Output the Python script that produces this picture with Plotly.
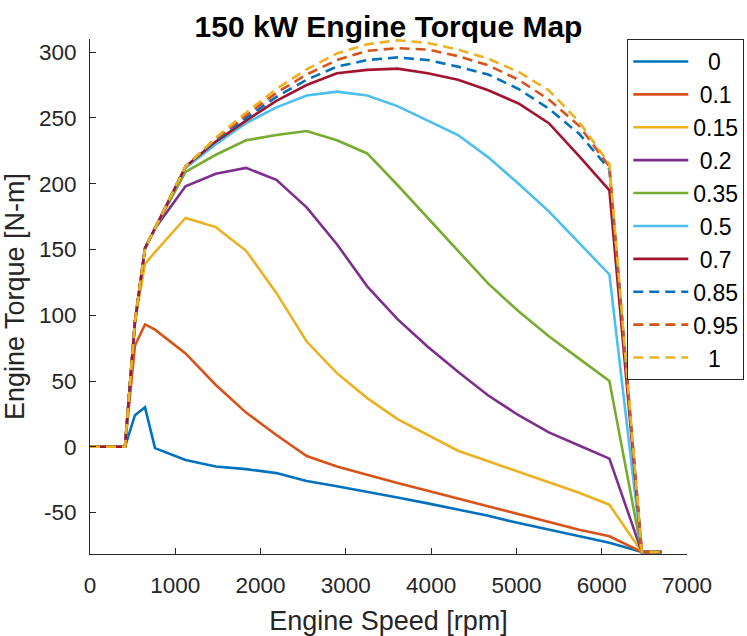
import plotly.graph_objects as go

speed_rpm = [0, 410, 527, 645, 762, 1120, 1475, 1830, 2185, 2540, 2895, 3250, 3605,
             3960, 4315, 4670, 5025, 5380, 5735, 6090, 6470, 6700]

labels = ["0", "0.1", "0.15", "0.2", "0.35", "0.5", "0.7", "0.85", "0.95", "1"]
# leading spaces only to centre the entries like the reference legend
label_pad = ["\u00a0\u00a0\u200a", "\u00a0", "", "\u00a0", "", "\u00a0", "\u00a0", "", "", "\u00a0\u00a0\u200a"]

torque_0 = [0, 0, 24, 30, -1, -10, -15, -17, -20, -26, -30, -34, -38.5, -43, -47.5, -52.5, -58, -63, -68, -73, -80, -80]
torque_01 = [0, 0, 77, 93, 89, 71, 47, 26, 9, -7, -15, -21.5, -27.5, -33.5, -39.5, -45.5, -51, -57, -63, -68, -80, -80]
torque_015 = [0, 0, 95, 139, 148, 174, 167, 149, 117, 80, 56, 37, 21, 9, -3, -11, -19, -27, -35, -44, -80, -80]
torque_02 = [0, 0, 95, 151, 166, 198, 207.5, 212, 203, 182, 154, 122, 97, 76, 57, 39, 24, 11, 1, -9, -80, -80]
torque_035 = [0, 0, 95, 151, 166, 209, 222, 233, 237, 240, 233, 223, 199, 174, 149, 124, 103, 84, 67, 50, -80, -80]
torque_05 = [0, 0, 95, 151, 166, 212, 230, 246, 258, 267, 270, 267, 259, 248, 237, 220, 200, 179, 155, 131, -80, -80]
torque_07 = [0, 0, 95, 151, 166, 213, 232, 248, 263, 275, 284, 286.5, 287.5, 284, 279, 271, 261, 246, 221, 195, -80, -80]
torque_085 = [0, 0, 95, 151, 166, 213, 233, 250, 266, 279, 289, 294, 296, 294, 289, 283, 272, 257, 238, 211, -80, -80]
torque_095 = [0, 0, 95, 151, 166, 213, 234, 252, 269, 283, 294, 301, 303, 302, 297, 290, 279, 264, 244, 213, -80, -80]
torque_1 = [0, 0, 95, 151, 166, 213, 235, 254, 272, 287, 299, 306, 309, 307, 302, 295, 285, 271, 247, 215, -80, -80]

series = [torque_0, torque_01, torque_015, torque_02, torque_035, torque_05, torque_07,
          torque_085, torque_095, torque_1]

x_ticks = [0, 1000, 2000, 3000, 4000, 5000, 6000, 7000]
y_ticks = [-50, 0, 50, 100, 150, 200, 250, 300]
y_tick_text = ["-50", "0", "50", "100", "150", "200", "250", "300"]

colors = ["#0072BD", "#D95319", "#EDB120", "#7E2F8E", "#77AC30", "#4DBEEE", "#A2142F",
          "#0072BD", "#D95319", "#EDB120"]
dashes = ["solid"] * 7 + ["10px,6px"] * 3

fig = go.Figure()
for lab, pad, ys, c, d in zip(labels, label_pad, series, colors, dashes):
    fig.add_trace(go.Scatter(x=speed_rpm, y=ys, mode="lines", name=pad + lab,
                             line=dict(color=c, width=2.6, dash=d)))

axis_col = "#262626"
fam = "Liberation Sans, Arial, sans-serif"
fig.update_layout(
    width=747, height=636,
    margin=dict(l=90, r=60, t=39, b=82, autoexpand=False),
    paper_bgcolor="white", plot_bgcolor="white",
    font=dict(family=fam, color=axis_col, size=22),
    title=dict(text="<b>150 kW Engine Torque Map</b>", x=0.5, xref="paper", xanchor="center",
               yref="container", y=1 - 26 / 636, yanchor="middle",
               font=dict(size=30, color="black", family=fam)),
    showlegend=True,
    legend=dict(x=0.9, y=1.0, xanchor="left", yanchor="top",
                bgcolor="white", bordercolor=axis_col, borderwidth=1,
                font=dict(size=23, color="black"), itemwidth=55,
                tracegroupgap=0),
)
fig.update_xaxes(range=[0, 7000], tickvals=x_ticks,
                 showline=True, linecolor=axis_col, linewidth=1, ticks="inside",
                 ticklen=6, tickcolor=axis_col, showgrid=False, zeroline=False,
                 automargin=False, ticklabelstandoff=11,
                 title=dict(text="Engine Speed [rpm]", font=dict(size=27), standoff=16),
                 tickfont=dict(size=22.5))
fig.update_yaxes(range=[-81.5, 310], tickvals=y_ticks, ticktext=y_tick_text,
                 showline=True, linecolor=axis_col, linewidth=1, ticks="inside",
                 ticklen=6, tickcolor=axis_col, showgrid=False, zeroline=False,
                 automargin=False, ticklabelstandoff=8,
                 title=dict(text="Engine Torque [N-m]", font=dict(size=27), standoff=8),
                 tickfont=dict(size=22.5))

fig.write_html(
    "out.html",
    config={"displayModeBar": False},
    post_script="document.body.style.margin='0';document.body.style.overflow='hidden';"
                "document.documentElement.style.overflow='hidden';",
)
